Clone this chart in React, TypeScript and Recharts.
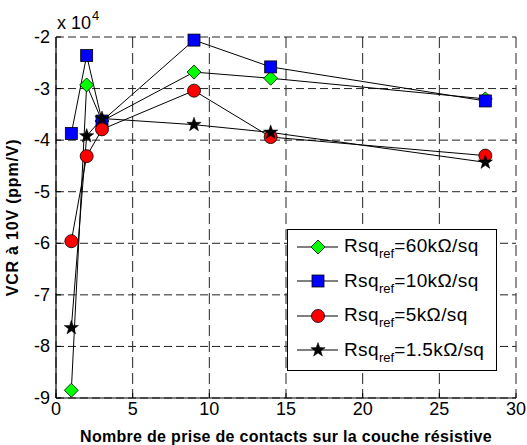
import React from 'react';
import { LineChart, Line, XAxis, YAxis, CartesianGrid, Label } from 'recharts';

// values are in units of 10^4 ppm/V (the axis carries the "x 10^4" factor)
const contacts = [1, 2, 3, 9, 14, 28];
const rsq60k = [-8.85, -2.93, -3.63, -2.68, -2.8, -3.2];
const rsq10k = [-3.87, -2.36, -3.63, -2.06, -2.58, -3.24];
const rsq5k = [-5.96, -4.31, -3.79, -3.04, -3.94, -4.3];
const rsq1k5 = [-7.64, -3.92, -3.58, -3.7, -3.85, -4.43];

const xTicks = [0, 5, 10, 15, 20, 25, 30];
const yTicks = [-9, -8, -7, -6, -5, -4, -3, -2];

const data = contacts.map((n, i) => ({
    n,
    r60: rsq60k[i],
    r10: rsq10k[i],
    r5: rsq5k[i],
    r15: rsq1k5[i],
}));

const FONT = '"Liberation Sans", Arial, Helvetica, sans-serif';
const TICK_LEN = 5;

const Diamond = ({ cx, cy }: any) => (
    <polygon
        points={`${cx},${cy - 7} ${cx + 7},${cy} ${cx},${cy + 7} ${cx - 7},${cy}`}
        fill="#00ff00"
        stroke="#000"
        strokeWidth={0.8}
    />
);

const Square = ({ cx, cy }: any) => (
    <rect x={cx - 6} y={cy - 6} width={12} height={12} fill="#0000ff" stroke="#000" strokeWidth={0.8} />
);

const Circle = ({ cx, cy }: any) => (
    <circle cx={cx} cy={cy} r={6.5} fill="#ff0000" stroke="#000" strokeWidth={0.8} />
);

const Star = ({ cx, cy }: any) => {
    const pts: string[] = [];
    for (let i = 0; i < 10; i++) {
        const a = (-90 + i * 36) * Math.PI / 180;
        const r = i % 2 === 0 ? 7.5 : 3;
        pts.push(`${cx + r * Math.cos(a)},${cy + r * Math.sin(a)}`);
    }
    return <polygon points={pts.join(' ')} fill="#000" stroke="#000" strokeWidth={0.5} />;
};

const series = [
    { key: 'r60', label: '60k\u03A9/sq', Marker: Diamond },
    { key: 'r10', label: '10k\u03A9/sq', Marker: Square },
    { key: 'r5', label: '5k\u03A9/sq', Marker: Circle },
    { key: 'r15', label: '1.5k\u03A9/sq', Marker: Star },
];

// MATLAB style: labels outside, tick marks pointing into the plot
const LeftTick = ({ x, y, payload }: any) => (
    <g>
        <text x={x} y={y} dy={6} textAnchor="end" fontSize={18} fontFamily={FONT} fill="#000">
            {payload.value}
        </text>
        <line x1={x + 6} y1={y} x2={x + 6 + TICK_LEN} y2={y} stroke="#000" />
    </g>
);

const BottomTick = ({ x, y, payload }: any) => (
    <g>
        <text x={x} y={y} dy={15} textAnchor="middle" fontSize={18} fontFamily={FONT} fill="#000">
            {payload.value}
        </text>
        <line x1={x} y1={y - 2} x2={x} y2={y - 2 - TICK_LEN} stroke="#000" />
    </g>
);

const RightTick = ({ x, y }: any) => (
    <line x1={x} y1={y} x2={x - TICK_LEN} y2={y} stroke="#000" />
);

const TopTick = ({ x, y }: any) => (
    <line x1={x} y1={y} x2={x} y2={y + TICK_LEN} stroke="#000" />
);

const ExponentLabel = ({ viewBox }: any) => {
    const x = viewBox.x + viewBox.width + 1;
    const y = viewBox.y - 8;
    return (
        <text x={x} y={y} fontSize={18} fontFamily={FONT} fill="#000">
            x 10
            <tspan dx={1} dy={-9} fontSize={13}>4</tspan>
        </text>
    );
};

const LegendBox = () => (
    <div
        style={{
            position: 'absolute',
            left: 287,
            top: 229,
            width: 208,
            height: 140,
            border: '1px solid #000',
            background: '#fff',
            fontFamily: FONT,
        }}
    >
        {series.map((s, i) => (
            <div
                key={s.key}
                style={{ position: 'absolute', left: 0, top: 16.5 + i * 34.5 - 12, height: 24, display: 'flex', alignItems: 'center' }}
            >
                <svg width={56} height={24} style={{ display: 'block' }}>
                    <line x1={9} y1={12} x2={50} y2={12} stroke="#000" strokeWidth={1} />
                    <s.Marker cx={30} cy={12} />
                </svg>
                <span style={{ fontSize: 19, lineHeight: '19px', letterSpacing: 0.4, whiteSpace: 'nowrap', marginTop: -2 }}>
                    Rsq<sub style={{ fontSize: 13, verticalAlign: -6, lineHeight: 0, letterSpacing: 0 }}>ref</sub>={s.label}
                </span>
            </div>
        ))}
    </div>
);

const App: React.FC = () => {
    return (
        <div style={{ position: 'absolute', left: 0, top: 0, width: 527, height: 445, background: '#fff' }}>
            <LineChart width={527} height={445} data={data} margin={{ top: 37, right: 11, left: 0, bottom: 0 }}>
                <CartesianGrid stroke="#222" strokeDasharray="8 4" vertical={false} />
                <CartesianGrid stroke="#222" strokeDasharray="11 5" horizontal={false} />
                <XAxis
                    dataKey="n"
                    type="number"
                    domain={[0, 30]}
                    ticks={xTicks}
                    height={47}
                    tickSize={0}
                    tickMargin={2}
                    tick={<BottomTick />}
                    axisLine={{ stroke: '#000', strokeWidth: 1.2 }}
                    tickLine={false}
                >
                    <Label
                        value="Nombre de prise de contacts sur la couche résistive"
                        position="insideBottom"
                        offset={3}
                        style={{ fontSize: 16, fontWeight: 'bold', letterSpacing: 0.3, fontFamily: FONT, fill: '#000' }}
                    />
                </XAxis>
                <XAxis
                    xAxisId="top"
                    orientation="top"
                    type="number"
                    domain={[0, 30]}
                    ticks={xTicks}
                    height={0}
                    tickSize={0}
                    tick={<TopTick />}
                    axisLine={{ stroke: '#000', strokeWidth: 1.2 }}
                    tickLine={false}
                />
                <YAxis
                    type="number"
                    domain={[-9, -2]}
                    ticks={yTicks}
                    width={56}
                    tickSize={0}
                    tickMargin={6}
                    tick={<LeftTick />}
                    axisLine={{ stroke: '#000', strokeWidth: 1.2 }}
                    tickLine={false}
                >
                    <Label
                        value="VCR à 10V (ppm/V)"
                        angle={-90}
                        position="insideLeft"
                        offset={12}
                        style={{ fontSize: 16, fontWeight: 'bold', letterSpacing: 0.8, fontFamily: FONT, fill: '#000', textAnchor: 'middle' }}
                    />
                    <Label content={<ExponentLabel />} />
                </YAxis>
                <YAxis
                    yAxisId="right"
                    orientation="right"
                    type="number"
                    domain={[-9, -2]}
                    ticks={yTicks}
                    width={0}
                    tickSize={0}
                    tick={<RightTick />}
                    axisLine={{ stroke: '#000', strokeWidth: 1.2 }}
                    tickLine={false}
                />
                {series.map((s) => (
                    <Line
                        key={s.key}
                        dataKey={s.key}
                        stroke="#000"
                        strokeWidth={1}
                        isAnimationActive={false}
                        dot={(p: any) => <s.Marker key={`${s.key}-${p.index}`} cx={p.cx} cy={p.cy} />}
                        activeDot={false}
                    />
                ))}
            </LineChart>
            <LegendBox />
        </div>
    );
};

export default App;
